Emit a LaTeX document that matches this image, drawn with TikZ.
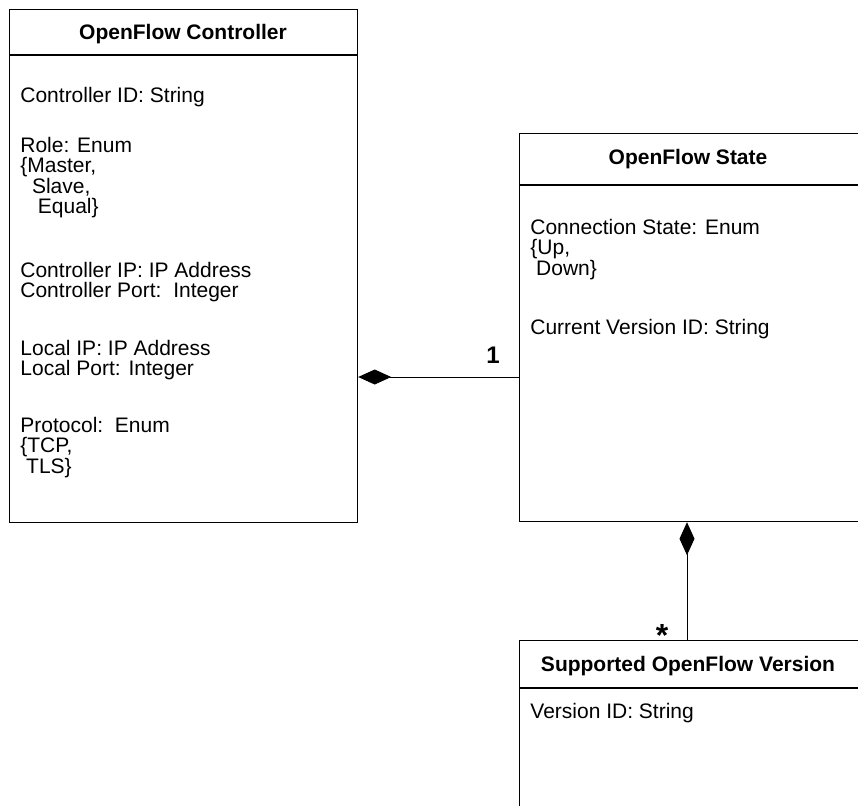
\documentclass[tikz,border=0pt]{standalone}
\usepackage{fontspec}
\setmainfont{Liberation Sans}
\usetikzlibrary{arrows.meta,positioning}

\begin{document}
\begin{tikzpicture}[x=0.5pt, y=-0.5pt, font=\fontsize{10.5}{10.25}\selectfont]
\tikzset{
    classbox/.style={rectangle, draw=black, line width=0.6pt, anchor=north west, inner sep=0pt},
    classtitle/.style={font=\fontsize{10.5}{12}\selectfont\bfseries, inner sep=0pt, anchor=base},
    attrs/.style={align=left, anchor=base west, inner sep=0pt},
    mult/.style={font=\fontsize{12}{14}\selectfont\bfseries, inner sep=0pt, anchor=base},
    composition/.style={{Diamond[length=16.5pt, width=7.5pt]}-, line width=0.5pt}
}
\useasboundingbox (0,0) rectangle (858,805);

% the three classes
\node[classbox, minimum width=174pt, minimum height=256.5pt] (controller) at (9,9) {};
\node[classbox, minimum width=171pt, minimum height=194pt] (state) at (519,133) {};
\node[classbox, minimum width=171pt, minimum height=95pt] (supported) at (519,640) {};

\draw[line width=0.6pt] ([yshift=-23pt]controller.north west) -- ([yshift=-23pt]controller.north east);
\draw[line width=0.6pt] ([yshift=-26pt]state.north west) -- ([yshift=-26pt]state.north east);
\draw[line width=0.6pt] ([yshift=-24pt]supported.north west) -- ([yshift=-24pt]supported.north east);

\node[classtitle] (controllertitle) at (183,39) {OpenFlow Controller};
\node[classtitle] (statetitle) at (688,164) {OpenFlow State};
\node[classtitle] (supportedtitle) at (688,671) {Supported OpenFlow Version};

% attributes (multi-line nodes sit on the baseline of their last line)
\node[attrs] (ctrlid) at (20,102) {Controller ID: String};
\node[attrs] (role) at (20,213.5) {Role: Enum\\\{Master,\\\ \ Slave,\\\ \ \ Equal\}};
\node[attrs] (ctrladdr) at (20,297.5) {Controller IP: IP Address\\Controller Port:\ \ Integer};
\node[attrs] (localaddr) at (20,375.5) {Local IP: IP Address\\Local Port: Integer};
\node[attrs] (protocol) at (20,473) {Protocol:\ \ Enum\\\{TCP,\\\ TLS\}};

\node[attrs] (connstate) at (530,275) {Connection State: Enum\\\{Up,\\\ Down\}};
\node[attrs] (curversion) at (530,334) {Current Version ID: String};

\node[attrs] (versionid) at (530,718) {Version ID: String};

% compositions
\coordinate (link) at (0,377);
\coordinate (drop) at (687,0);
\draw[composition] (controller.east |- link) -- (state.west |- link);
\draw[composition] (state.south -| drop) -- (supported.north -| drop);

\node[mult] (one) at (493,363) {1};
\node[mult, font=\fontsize{16}{18}\selectfont\bfseries] (many) at (662,646) {*};

\end{tikzpicture}
\end{document}
